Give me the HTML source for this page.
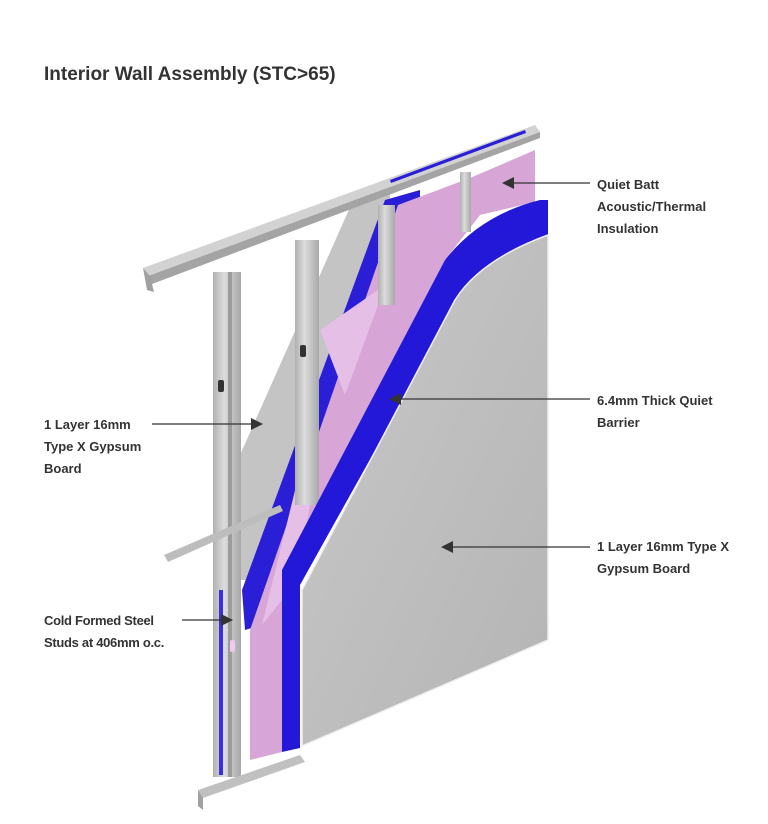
<!DOCTYPE html>
<html><head><style>
body{margin:0;background:#fff;width:768px;height:824px;overflow:hidden;font-family:"Liberation Sans",sans-serif;}
.t{position:absolute;left:44px;top:64px;font-size:19px;font-weight:bold;color:#333;}
.l{position:absolute;font-size:13px;font-weight:bold;color:#333;line-height:22px;}
</style></head><body>
<svg width="768" height="824" style="position:absolute;left:0;top:0">
<defs>
<linearGradient id="g" x1="0" y1="0" x2="1" y2="1"><stop offset="0" stop-color="#c9c9c9"/><stop offset="1" stop-color="#b4b4b4"/></linearGradient>
<linearGradient id="st" x1="0" x2="1"><stop offset="0" stop-color="#b0b0b0"/><stop offset="0.4" stop-color="#dcdcdc"/><stop offset="1" stop-color="#a8a8a8"/></linearGradient>
</defs>
<!-- back gypsum -->
<polygon points="240,455 355,196 390,185 390,300 250,580 240,580" fill="#c4c4c4"/>
<!-- back blue -->
<polygon points="242,590 385,200 420,190 420,240 262,625 245,630" fill="#2a1fd6"/>
<!-- pink -->
<polygon points="250,760 250,630 398,205 470,178 535,150 535,202 480,215 445,260 282,570 282,752" fill="#d7a6d6"/>
<polygon points="262,625 300,470 318,462 300,560 282,600" fill="#e6bfe6"/>
<polygon points="320,330 378,290 378,305 345,395" fill="#e6bfe6"/>
<!-- studs -->
<rect x="213" y="272" width="28" height="505" fill="url(#st)"/>
<rect x="228" y="272" width="4" height="505" fill="#9c9c9c"/>
<rect x="295" y="240" width="24" height="265" fill="url(#st)"/>
<rect x="378" y="205" width="17" height="100" fill="url(#st)"/>
<rect x="460" y="172" width="11" height="60" fill="url(#st)"/>
<rect x="218" y="380" width="6" height="12" rx="2" fill="#333"/>
<rect x="300" y="345" width="6" height="12" rx="2" fill="#333"/>
<rect x="230" y="640" width="5" height="12" rx="2" fill="#f0c8f0"/>
<rect x="219" y="590" width="4" height="185" fill="#3a2fe0"/>
<!-- cross rod -->
<polygon points="164,555 280,505 283,511 168,562" fill="#bdbdbd"/>
<!-- front blue -->
<path d="M540,200 L548,200 L548,248 Q500,258 470,280 L300,585 L300,748 L282,752 L282,570 L445,260 Q480,215 540,200 Z" fill="#2418d8"/>
<!-- front gray -->
<path d="M548,235 L548,640 L302,746 L302,590 L455,300 Q480,260 548,235 Z" fill="url(#g)" stroke="#eee" stroke-width="1.5"/>
<!-- top track -->
<polygon points="143,268 535,125 540,132 148,276" fill="#d2d2d2"/>
<polygon points="148,276 540,132 540,138 152,284" fill="#a4a4a4"/>
<polygon points="143,268 150,276 154,292 147,290" fill="#a0a0a0"/>
<polygon points="390,180 525,130 526,133 391,183" fill="#2a1fd6"/>
<!-- bottom track -->
<polygon points="198,790 300,755 305,762 203,798" fill="#c0c0c0"/>
<polygon points="198,790 203,798 203,810 198,806" fill="#a0a0a0"/>
<!-- arrows -->
<g stroke="#333" stroke-width="1.3">
<line x1="590" y1="183" x2="510" y2="183"/>
<line x1="590" y1="399" x2="398" y2="399"/>
<line x1="590" y1="547" x2="450" y2="547"/>
<line x1="152" y1="424" x2="255" y2="424"/>
<line x1="182" y1="620" x2="225" y2="620"/>
</g>
<g fill="#333">
<polygon points="502,183 514,177 514,189"/>
<polygon points="389,399 401,393 401,405"/>
<polygon points="441,547 453,541 453,553"/>
<polygon points="263,424 251,418 251,430"/>
<polygon points="233,620 221,614 221,626"/>
</g>
</svg>
<div class="t">Interior Wall Assembly (STC&gt;65)</div>
<div class="l" style="left:597px;top:174px">Quiet Batt<br>Acoustic/Thermal<br>Insulation</div>
<div class="l" style="left:597px;top:390px">6.4mm Thick Quiet<br>Barrier</div>
<div class="l" style="left:597px;top:536px">1 Layer 16mm Type X<br>Gypsum Board</div>
<div class="l" style="left:44px;top:414px">1 Layer 16mm<br>Type X Gypsum<br>Board</div>
<div class="l" style="left:44px;top:610px;letter-spacing:-0.3px">Cold Formed Steel<br>Studs at 406mm o.c.</div>
</body></html>
